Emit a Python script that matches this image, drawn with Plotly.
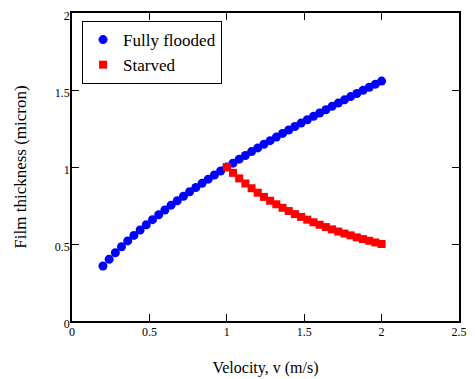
import plotly.graph_objects as go

velocity_flooded = [0.20, 0.24, 0.28, 0.32, 0.36, 0.40, 0.44, 0.48, 0.52, 0.56,
                    0.60, 0.64, 0.68, 0.72, 0.76, 0.80, 0.84, 0.88, 0.92, 0.96,
                    1.00, 1.04, 1.08, 1.12, 1.16, 1.20, 1.24, 1.28, 1.32, 1.36,
                    1.40, 1.44, 1.48, 1.52, 1.56, 1.60, 1.64, 1.68, 1.72, 1.76,
                    1.80, 1.84, 1.88, 1.92, 1.96, 2.00]
thickness_flooded = [0.357, 0.401, 0.443, 0.482, 0.520, 0.556, 0.591, 0.625, 0.658, 0.690,
                     0.721, 0.752, 0.781, 0.810, 0.839, 0.867, 0.894, 0.921, 0.948, 0.974,
                     1.000, 1.025, 1.051, 1.075, 1.100, 1.124, 1.148, 1.171, 1.194, 1.218,
                     1.240, 1.263, 1.285, 1.307, 1.329, 1.351, 1.372, 1.394, 1.415, 1.436,
                     1.457, 1.477, 1.498, 1.518, 1.538, 1.558]

velocity_starved = [1.00, 1.04, 1.08, 1.12, 1.16, 1.20, 1.24, 1.28, 1.32, 1.36,
                    1.40, 1.44, 1.48, 1.52, 1.56, 1.60, 1.64, 1.68, 1.72, 1.76,
                    1.80, 1.84, 1.88, 1.92, 1.96, 2.00]
thickness_starved = [1.000, 0.962, 0.926, 0.893, 0.862, 0.833, 0.806, 0.781, 0.758, 0.735,
                     0.714, 0.694, 0.676, 0.658, 0.641, 0.625, 0.610, 0.595, 0.581, 0.568,
                     0.556, 0.543, 0.532, 0.521, 0.510, 0.500]

x_ticks = [0, 0.5, 1, 1.5, 2, 2.5]
x_tick_labels = ["0", "0.5", "1", "1.5", "2", "2.5"]
y_ticks = [0, 0.5, 1, 1.5, 2]
y_tick_labels = ["0", "0.5", "1", "1.5", "2"]

fig = go.Figure()
fig.add_trace(go.Scatter(x=velocity_flooded, y=thickness_flooded, mode="markers",
                         name="Fully flooded",
                         marker=dict(symbol="circle", size=9, color="#0000ff")))
fig.add_trace(go.Scatter(x=velocity_starved, y=thickness_starved, mode="markers",
                         name="Starved",
                         marker=dict(symbol="square", size=8, color="#ff0000")))

axis_common = dict(showline=True, linecolor="black", linewidth=1.5, mirror="ticks",
                   ticks="inside", ticklen=7, tickwidth=1.2, tickcolor="black",
                   showgrid=False, zeroline=False, automargin=False,
                   ticklabeloverflow="allow",
                   tickfont=dict(family="Liberation Serif", size=12, color="black"))

# page body has an 8px default margin, so the figure is sized to fit inside it
fig.update_layout(
    width=467, height=371,
    margin=dict(l=64, r=16, t=5, b=58),
    paper_bgcolor="white", plot_bgcolor="white",
    font=dict(family="Liberation Serif", color="black"),
    xaxis=dict(range=[0, 2.5], tickvals=x_ticks, ticktext=x_tick_labels,
               ticklabelstandoff=-1,
               title=dict(text="Velocity, v (m/s)", font=dict(size=16), standoff=24),
               **axis_common),
    yaxis=dict(range=[0, 2], tickvals=y_ticks, ticktext=y_tick_labels,
               ticklabelstandoff=-2, ticklabelshift=3,
               title=dict(text="Film thickness (micron)", font=dict(size=17), standoff=24),
               **axis_common),
    legend=dict(x=0.026, y=0.974, xanchor="left", yanchor="top",
                bordercolor="black", borderwidth=1, bgcolor="white",
                font=dict(size=17, family="Liberation Serif"),
                tracegroupgap=0, itemwidth=30),
    showlegend=True,
)

fig.write_html("out.html")
